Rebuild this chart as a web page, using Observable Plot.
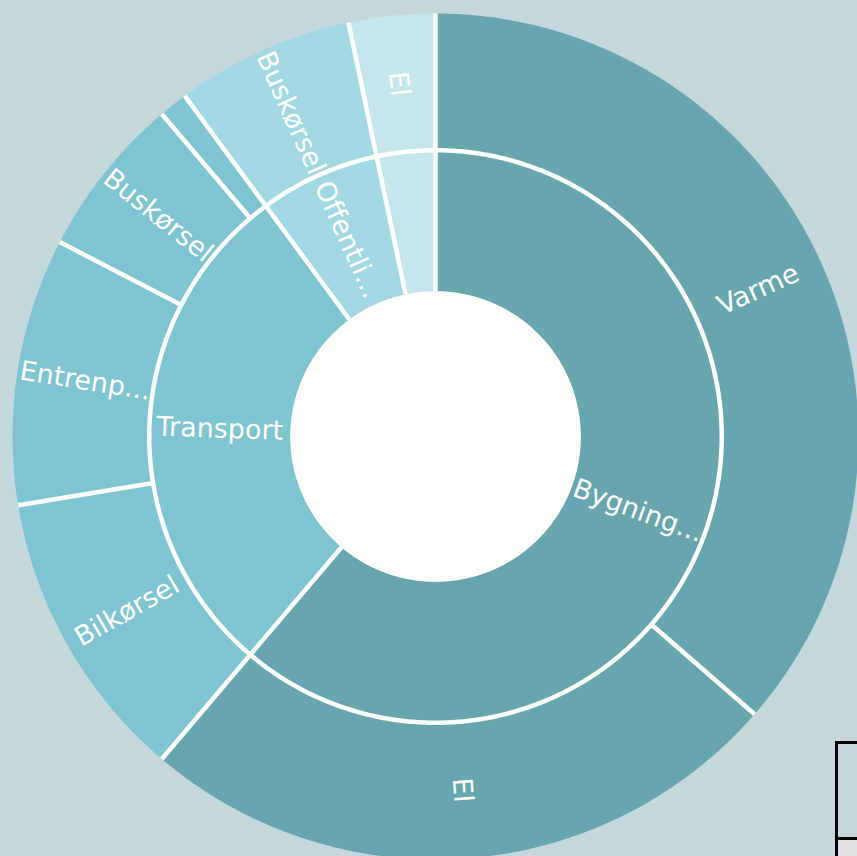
<!DOCTYPE html>
<html>
<head>
<meta charset="utf-8">
<script src="https://cdn.jsdelivr.net/npm/d3@7"></script>
<script src="https://cdn.jsdelivr.net/npm/@observablehq/plot@0.6"></script>
<style>
  html, body { margin: 0; padding: 0; background: #c5d7db; overflow: hidden; }
  #wrap { position: relative; width: 857px; height: 856px; overflow: hidden; }
  #box1 { position: absolute; left: 835px; top: 741px; width: 40px; height: 93px; border: 3px solid #000; border-right: none; box-sizing: content-box; }
  #box2 { position: absolute; left: 835px; top: 837px; width: 40px; height: 30px; background: #e2e2e2; border-left: 3px solid #000; border-top: 3px solid #000; }
</style>
</head>
<body>
<div id="wrap"><div id="chart"></div><div id="box1"></div><div id="box2"></div></div>
<script>
// ---- data ----
const parentNames  = ["Bygning...", "Transport", "Offentli...", "El"];
const parentColors = ["#68a6af", "#7fc4d1", "#a2d8e3", "#c4e5ec"];
const leafParent   = ["Bygning...", "Bygning...", "Transport", "Transport", "Transport", "Transport", "Offentli...", "El"];
const leafLabels   = ["Varme", "El", "Bilkørsel", "Entrenp...", "Buskørsel", "", "Buskørsel", "El"];
const leafValues   = [36.4, 24.8, 11.2, 10.2, 6.2, 1.1, 6.8, 3.3];
const parentLabelShown = [true, true, true, false];

// ---- layout (ring radii in data units) ----
const R0 = 1.03, R1 = 2.03, R2 = 3.0;
const total = d3.sum(leafValues);
const toAng = v => v / total * 2 * Math.PI;

let acc = 0;
const leaves = leafValues.map((v, i) => {
  const a0 = toAng(acc); acc += v; const a1 = toAng(acc);
  return {i, parent: leafParent[i], label: leafLabels[i], a0, a1,
          color: parentColors[parentNames.indexOf(leafParent[i])]};
});
const parents = parentNames.map((p, j) => {
  const ls = leaves.filter(l => l.parent === p);
  return {j, name: p, a0: ls[0].a0, a1: ls[ls.length - 1].a1, color: parentColors[j], show: parentLabelShown[j]};
});

function arcPoly(id, a0, a1, r0, r1, color) {
  const pts = [];
  const n = Math.max(2, Math.ceil((a1 - a0) / (Math.PI / 360)));
  for (let k = 0; k <= n; k++) { const a = a0 + (a1 - a0) * k / n; pts.push({id, color, x: r1 * Math.sin(a), y: r1 * Math.cos(a)}); }
  for (let k = n; k >= 0; k--) { const a = a0 + (a1 - a0) * k / n; pts.push({id, color, x: r0 * Math.sin(a), y: r0 * Math.cos(a)}); }
  return pts;
}
const polys = [];
parents.forEach(p => polys.push(...arcPoly("p" + p.j, p.a0, p.a1, R0, R1, p.color)));
leaves.forEach(l => polys.push(...arcPoly("l" + l.i, l.a0, l.a1, R1, R2, l.color)));
polys.push(...arcPoly("root", 0, 2 * Math.PI, 0, R0, "#ffffff"));

const seps = [];
parents.forEach(p => {
  [R0, R2].forEach(r => seps.push({id: "pb" + p.j, x: r * Math.sin(p.a0), y: r * Math.cos(p.a0)}));
});
leaves.forEach(l => {
  const isParentStart = parents.some(p => Math.abs(p.a0 - l.a0) < 1e-9);
  if (!isParentStart) [R1, R2].forEach(r => seps.push({id: "lb" + l.i, x: r * Math.sin(l.a0), y: r * Math.cos(l.a0)}));
});
const ringCircle = d3.range(0, 721).map(k => { const a = k / 720 * 2 * Math.PI; return {id: "ring", x: R1 * Math.sin(a), y: R1 * Math.cos(a)}; });

function labelRot(mid) {
  const deg = mid * 180 / Math.PI;
  return deg <= 180 ? deg - 90 : deg - 270;
}
const labels = [];
parents.filter(p => p.show).forEach(p => {
  const m = (p.a0 + p.a1) / 2, r = (R0 + R1) / 2;
  labels.push({text: p.name, x: r * Math.sin(m), y: r * Math.cos(m), rot: labelRot(m)});
});
leaves.filter(l => l.label).forEach(l => {
  const m = (l.a0 + l.a1) / 2, r = (R1 + R2) / 2;
  labels.push({text: l.label, x: r * Math.sin(m), y: r * Math.cos(m), rot: labelRot(m)});
});

const chart = Plot.plot({
  width: 857, height: 856, margin: 0,
  x: {domain: [-3, 3], range: [12, 858], axis: null},
  y: {domain: [-3, 3], range: [859, 13], axis: null},
  color: {type: "identity"},
  style: {background: "transparent", overflow: "visible"},
  marks: [
    Plot.line(polys, {x: "x", y: "y", z: "id", fill: "color", stroke: "none", curve: "linear"}),
    Plot.line(seps, {x: "x", y: "y", z: "id", stroke: "#ffffff", strokeWidth: 4.5, strokeLinecap: "butt"}),
    Plot.line(ringCircle, {x: "x", y: "y", z: "id", stroke: "#ffffff", strokeWidth: 4.5}),
    Plot.text(labels, {x: "x", y: "y", text: "text", rotate: "rot", fill: "#ffffff",
      fontSize: 27, fontFamily: "DejaVu Sans", textAnchor: "middle", lineAnchor: "middle"})
  ]
});
document.getElementById("chart").appendChild(chart);
</script>
</body>
</html>
